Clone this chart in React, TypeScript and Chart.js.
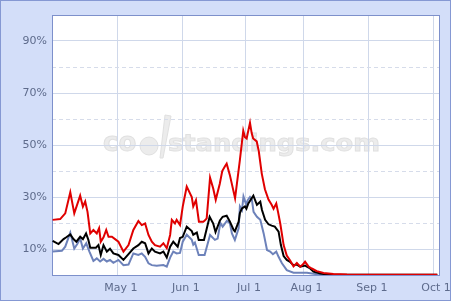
import React, { useEffect, useRef } from 'react';
import { Chart, registerables } from 'chart.js';

Chart.register(...registerables);

// x is a game-day index (data series start at index 0)
const xTickValues = [31, 62, 92, 119.4, 150.5, 181];
const xTickLabels = ['May 1', 'Jun 1', 'Jul 1', 'Aug 1', 'Sep 1', 'Oct 1'];
const yLabeledTicks = [10, 30, 50, 70, 90];
const yDashedTicks = [20, 40, 60, 80];

const redDays = [0, 3.6, 6, 8.4, 10.3, 13.1, 14.4, 15.5, 16.6, 17.9, 19.4, 21, 22.1, 22.9, 24.2, 25.5, 26.6, 28.2, 29.7, 31.3, 33.7, 36.1, 38.4, 40.8, 42.4, 44, 45.6, 47.2, 48.7, 51.1, 52.7, 54.3, 55.9, 56.7, 58.2, 59, 60.6, 61.9, 63.8, 66.2, 66.9, 68.2, 69.6, 71.7, 72.5, 73.3, 74.9, 76.4, 77.6, 79.5, 80.7, 82, 82.8, 84.3, 86.8, 89.1, 90.7, 91.5, 92.3, 93.9, 94.7, 95.4, 97.1, 98.1, 99.5, 101, 102.7, 104.2, 105.1, 106.4, 107.3, 108.3, 109.9, 111.4, 113, 114.6, 116.2, 117.8, 119, 120.1, 121.8, 123.3, 125.7, 128.9, 133.6, 140, 183];
const redValues = [21.2, 21.5, 23.7, 31.8, 23.7, 30.5, 26.3, 28.3, 24.3, 16, 17.3, 16, 18, 12.8, 14.5, 17.3, 14.7, 14.7, 13.8, 12.8, 9, 11.5, 17.3, 20.8, 19.2, 19.8, 15.4, 12.8, 11.5, 10.9, 12.2, 10.3, 15.4, 21.2, 19.8, 21.2, 19.2, 26.3, 34, 30, 26.4, 28.8, 20.5, 20.5, 21, 21.8, 37.4, 33.3, 28.9, 35, 40, 41.8, 42.8, 38.5, 29.5, 44.3, 55.5, 53, 52.5, 58.5, 54.6, 52.5, 51.4, 47.5, 39, 33, 29, 27, 25.5, 27.5, 24, 19.8, 11.5, 7.5, 5.6, 3.3, 4.6, 3.2, 4, 5.1, 3.2, 2.5, 1.5, 0.8, 0.4, 0.2, 0.1];

const blackDays = [0, 2.8, 5.2, 6.5, 8.4, 9.9, 11.3, 13.1, 14.4, 15.9, 17, 17.9, 20.6, 21.8, 22.9, 24.2, 25.8, 27.3, 28.9, 31.3, 33.7, 36.1, 38.4, 40.8, 42.4, 44, 45.6, 47.2, 48.7, 51.1, 52.7, 54.3, 55.9, 57.4, 59.5, 60.6, 61.9, 63.8, 66.2, 66.9, 68.6, 69.5, 72, 74.7, 76.4, 77.5, 79.6, 80.9, 82.8, 84.3, 86.1, 86.7, 88.5, 89.1, 90.1, 91.5, 92.2, 93.1, 95.5, 97.2, 98.8, 99.6, 101.1, 102.7, 104.2, 105.7, 107.5, 108.6, 109.9, 111.4, 113, 114.6, 116.2, 117.8, 120.1, 122.5, 124.1, 127.3, 130.5, 183];
const blackValues = [13.1, 11.9, 13.8, 14.5, 15.6, 13.8, 12.8, 14.7, 13.8, 16, 13.5, 10.5, 10.5, 11.5, 7.7, 11.5, 9, 10.1, 8.3, 7.7, 5.8, 8, 10.2, 11.5, 12.8, 12.2, 8.3, 10.2, 9, 8.3, 9, 6.7, 10.9, 12.8, 10.9, 14.2, 14.7, 18.6, 16.9, 15.5, 16.3, 13.5, 13.5, 22.4, 19.8, 16.5, 21, 22.4, 22.8, 20.6, 17.3, 16.8, 20.5, 23.8, 25.6, 26.4, 25.5, 27.5, 30.5, 27, 28.2, 25, 21.2, 19.5, 19, 18.6, 16.7, 11.5, 7.3, 5.8, 5, 3.8, 4, 3.2, 3.6, 2.5, 1.3, 0.6, 0.2, 0.05];

const blueDays = [0, 4.4, 6, 8.4, 10.3, 11.8, 13.1, 14.4, 16, 17.5, 19.4, 21, 22.6, 24.2, 25.8, 27.3, 28.9, 31.3, 33.7, 36.1, 38.4, 40.8, 42.4, 44, 45.6, 47.2, 49.5, 52.7, 54.3, 55.9, 57.4, 59, 60.6, 61.9, 63.8, 66.2, 66.9, 67.7, 69.5, 72.3, 74.9, 77.2, 78.5, 79.8, 80.9, 82.9, 84.3, 85.3, 86.7, 88.5, 89.1, 90.1, 90.8, 92.1, 92.8, 93.9, 94.8, 95.6, 97.2, 98.8, 100.4, 102, 103.5, 104.8, 106.4, 107.5, 109.1, 111.4, 114.6, 121, 124.1, 127, 183];
const blueValues = [9, 9.3, 10.9, 16.3, 10.2, 12, 14.1, 10.2, 12.2, 9, 5.4, 6.4, 5.2, 6.2, 5.2, 5.8, 4.7, 5.8, 3.8, 4, 8.3, 7.7, 8.3, 7, 4.5, 3.8, 3.6, 3.8, 3.2, 6.7, 9, 8.3, 8.5, 12.8, 15.5, 13.5, 11.7, 12.5, 7.7, 7.7, 15.4, 13.5, 14, 20, 18.6, 20.8, 20, 16, 13.5, 18, 26.4, 25, 30.2, 27, 28.8, 30, 29, 24.3, 22.4, 21.2, 16, 9.6, 9, 8, 9, 7, 4.5, 1.9, 0.9, 0.9, 0.5, 0.1, 0];

const pts = (xs: number[], ys: number[]) => xs.map((x, i) => ({ x, y: ys[i] }));

const GRID = '#cfd8ea';
const FRAME = '#7d90cb';

const decorPlugin = {
  id: 'decor',
  beforeDraw(chart: any) {
    const { ctx, chartArea: a } = chart;
    ctx.save();
    ctx.fillStyle = '#ffffff';
    ctx.fillRect(a.left, a.top, a.right - a.left, a.bottom - a.top);
    // watermark
    const x0 = a.left + 51;
    const base = a.top + 136;
    ctx.font = 'bold 26px "DejaVu Sans", Verdana, sans-serif';
    ctx.textBaseline = 'alphabetic';
    ctx.fillStyle = '#ececec';
    ctx.strokeStyle = '#e0e0e0';
    ctx.lineWidth = 1;
    ctx.fillText('co', x0, base);
    ctx.strokeText('co', x0, base);
    // ball
    ctx.beginPath();
    ctx.arc(x0 + 46, base - 5, 9, 0, Math.PI * 2);
    ctx.fill();
    ctx.stroke();
    // bat
    ctx.beginPath();
    ctx.moveTo(x0 + 62, base - 36);
    ctx.lineTo(x0 + 68, base - 35);
    ctx.lineTo(x0 + 60, base + 7);
    ctx.lineTo(x0 + 57, base + 7);
    ctx.closePath();
    ctx.fill();
    ctx.stroke();
    const s = 'standings.com';
    const w = ctx.measureText(s).width;
    ctx.save();
    ctx.translate(x0 + 65, base);
    ctx.scale(212 / w, 0.9);
    ctx.fillText(s, 0, 0);
    ctx.strokeText(s, 0, 0);
    ctx.restore();
    ctx.restore();
  },
  beforeDatasetsDraw(chart: any) {
    const { ctx, chartArea: a, scales } = chart;
    ctx.save();
    ctx.strokeStyle = '#d6dcea';
    ctx.lineWidth = 1;
    ctx.setLineDash([4, 3]);
    yDashedTicks.forEach((v) => {
      const py = Math.round(scales.y.getPixelForValue(v)) + 0.5;
      ctx.beginPath();
      ctx.moveTo(a.left, py);
      ctx.lineTo(a.right, py);
      ctx.stroke();
    });
    ctx.setLineDash([]);
    ctx.strokeStyle = FRAME;
    ctx.strokeRect(a.left + 0.5, a.top + 0.5, a.right - a.left - 1, a.bottom - a.top);
    ctx.restore();
  },
};

export default function App() {
  const ref = useRef<HTMLCanvasElement>(null);
  useEffect(() => {
    document.body.style.margin = '0';
    if (!ref.current) return;
    const chart = new Chart(ref.current, {
      type: 'line',
      data: {
        datasets: [
          { data: pts(redDays, redValues), borderColor: '#e00000', borderWidth: 2, pointRadius: 0, order: 0 },
          { data: pts(blackDays, blackValues), borderColor: '#000000', borderWidth: 2, pointRadius: 0, order: 1 },
          { data: pts(blueDays, blueValues), borderColor: '#6d82ba', borderWidth: 2, pointRadius: 0, order: 2 },
        ],
      },
      options: {
        animation: false,
        responsive: false,
        events: [],
        layout: { padding: { top: 14, right: 10, left: 0, bottom: 0 } },
        plugins: { legend: { display: false }, tooltip: { enabled: false } },
        scales: {
          x: {
            type: 'linear',
            min: -0.3,
            max: 184.3,
            afterBuildTicks: (s: any) => {
              s.ticks = xTickValues.map((v) => ({ value: v }));
            },
            afterFit: (s: any) => {
              s.height = 25;
              s.paddingLeft = 0;
              s.paddingRight = 0;
            },
            ticks: {
              autoSkip: false,
              maxRotation: 0,
              padding: 7,
              labelOffset: 3,
              color: '#5e6b8c',
              font: { family: '"DejaVu Sans", Verdana, sans-serif', size: 11 },
              callback: (_v: any, i: number) => xTickLabels[i],
            },
            grid: { color: GRID, drawTicks: false },
            border: { display: false },
          },
          y: {
            min: 0,
            max: 100,
            afterBuildTicks: (s: any) => {
              s.ticks = yLabeledTicks.map((v) => ({ value: v }));
            },
            afterFit: (s: any) => {
              s.width = 51;
            },
            ticks: {
              autoSkip: false,
              padding: 5,
              color: '#5e6b8c',
              font: { family: '"DejaVu Sans", Verdana, sans-serif', size: 11 },
              callback: (v: any) => v + '%',
            },
            grid: { color: GRID, drawTicks: false },
            border: { display: false },
          },
        },
      },
      plugins: [decorPlugin],
    });
    return () => chart.destroy();
  }, []);

  return (
    <div
      style={{
        width: 451,
        height: 301,
        boxSizing: 'border-box',
        border: '1px solid #8598d3',
        background: '#d3def9',
      }}
    >
      <canvas ref={ref} width={449} height={299} style={{ display: 'block' }} />
    </div>
  );
}
